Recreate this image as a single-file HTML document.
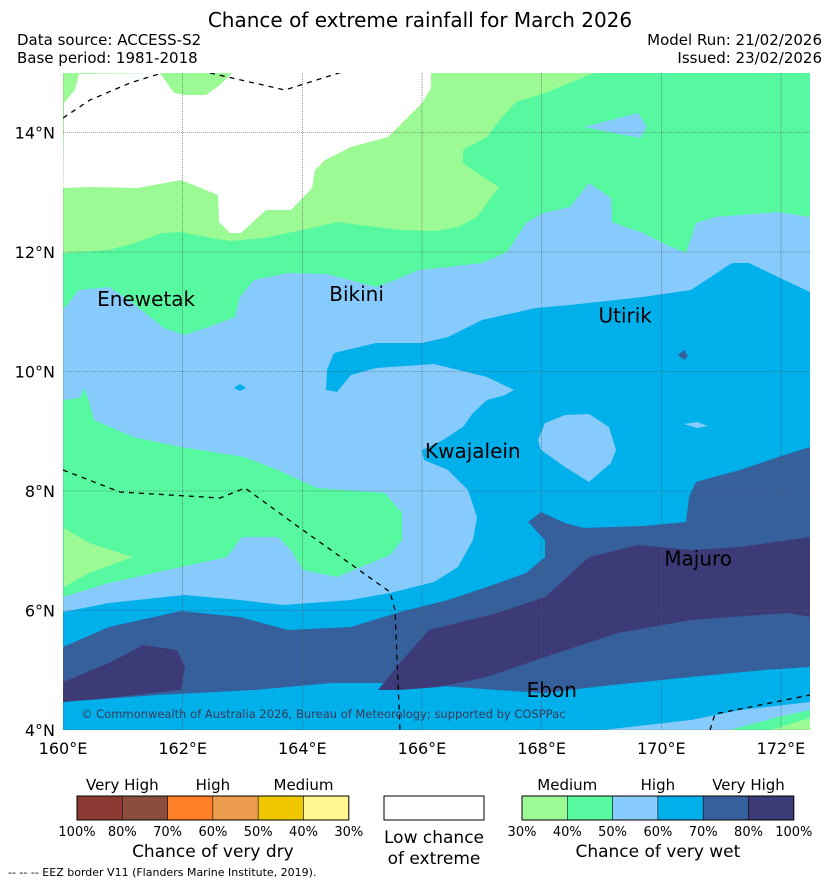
<!DOCTYPE html>
<html><head><meta charset="utf-8"><style>
body{margin:0;background:#fff;width:839px;height:885px;overflow:hidden;font-family:"Liberation Sans","DejaVu Sans",sans-serif}
</style></head><body>
<svg width="839" height="885" viewBox="0 0 839 885" style="font-family:'DejaVu Sans','Liberation Sans',sans-serif">
<defs><clipPath id="mc"><rect x="63" y="73" width="747" height="657"/></clipPath></defs>
<text x="420" y="27" font-size="20" text-anchor="middle">Chance of extreme rainfall for March 2026</text>
<text x="17" y="45" font-size="15">Data source: ACCESS-S2</text>
<text x="17" y="63" font-size="15">Base period: 1981-2018</text>
<text x="822" y="45" font-size="15" text-anchor="end">Model Run: 21/02/2026</text>
<text x="822" y="63" font-size="15" text-anchor="end">Issued: 23/02/2026</text>
<g id="map" clip-path="url(#mc)"></g>
<g id="axes"></g>
<g id="legend"></g>
<text x="8" y="876" font-size="11">-- -- -- EEZ border V11 (Flanders Marine Institute, 2019).</text>
</svg>
<script>
const lonTicks=[160,162,164,166,168,170,172];
const latTicks=[4,6,8,10,12,14];
const dryLabels=["100%","80%","70%","60%","50%","40%","30%"];
const wetLabels=["30%","40%","50%","60%","70%","80%","100%"];
const dryColors=["#8b3a33","#8b4d3d","#ff7f27","#eb9c4c","#f0c800","#fff68f"];
const wetColors=["#9cfa95","#56f9a0","#86cbfb","#00b0eb","#36609c","#3d3b77"];
const places=[["Enewetak",160.57,11.1],["Bikini",164.45,11.18],["Utirik",168.95,10.82],["Kwajalein",166.05,8.55],["Majuro",170.05,6.75],["Ebon",167.75,4.55]];
const X=lon=>63+(lon-160)*59.83, Y=lat=>730-(lat-4)*59.75;
const NS='http://www.w3.org/2000/svg';
function el(t,a,p){const e=document.createElementNS(NS,t);for(const k in a)e.setAttribute(k,a[k]);p.appendChild(e);return e;}
const map=document.getElementById('map');
function poly(pts,fill,name){const e=el('polygon',{points:pts,fill:fill},map);

}
el('rect',{x:63,y:73,width:747,height:657,fill:wetColors[0]},map);
poly("79,74 75,90 64,103 63,188 89,187 138,188 181,180 218,195 219,222 230,233 241,233 266,210 291,210 312,188 315,170 325,160 351,147 388,137 422,103 431,88 431,73 232,73 220,85 206,95 186,95 174,93 160,73","#ffffff","low-chance-region");
poly("63,253 109,250 138,242 162,233 181,232 206,237 230,241 264,238 303,230 337,222 376,227 400,230 436,231 458,227 477,217 499,187 477,173 463,163 463,150 487,137 502,117 516,102 545,93 594,73 810,73 810,730 63,730",wetColors[1],"wet-40-region");
poly("63,310 79,290 109,287 133,303 150,317 164,328 184,335 206,328 235,317 240,297 254,280 288,273 327,274 376,287 395,280 419,270 448,267 482,263 507,252 526,223 543,213 570,207 589,183 611,198 612,222 643,233 667,245 686,253 696,223 715,217 778,212 810,217 810,730 63,730",wetColors[2],"wet-50-region");
poly("63,400 80,398 84,388 88,398 94,420 133,437 181,447 244,457 278,470 317,488 385,493 402,513 402,540 390,555 361,567 337,577 303,570 291,550 278,537 242,537 227,557 181,567 109,583 63,597",wetColors[1],"wet-40-pocket");
poly("64,528 89,543 133,557 89,573 64,587",wetColors[0],"wet-30-pocket");
poly("584,127 638,113 647,127 640,138",wetColors[2],"wet-50-patch");
poly("334,353 376,343 422,343 448,337 482,320 536,308 570,305 643,297 691,290 732,263 749,263 778,277 810,292 810,730 63,730 63,612 109,603 184,595 240,600 283,605 351,600 390,593 434,582 458,567 473,540 477,517 468,490 448,470 424,460 422,450 443,440 463,427 473,413 487,400 505,395 514,390 487,377 434,364 376,368 351,375 337,392 326,390 327,370",wetColors[3],"wet-60-region");
poly("545,423 565,415 589,414 609,427 616,450 611,463 589,482 565,467 541,450 538,440",wetColors[2],"wet-50-blob");
poly("684,424 697,422 708,426 697,428",wetColors[2],"wet-50-speck");
poly("234,388 240,384 246,388 240,391",wetColors[3],"wet-60-speck");
poly("63,647 109,627 181,611 240,617 288,630 351,627 400,612 448,600 487,587 526,573 545,557 545,540 528,522 541,512 565,523 584,528 643,526 686,522 689,497 696,482 740,470 778,457 810,447 810,667 764,670 691,677 594,687 545,693 497,690 400,683 332,683 254,690 157,695 63,702",wetColors[4],"wet-70-region");
poly("678,355 684,350 688,356 684,360",wetColors[4],"wet-70-speck");
poly("63,682 109,663 143,645 177,650 185,667 181,690 109,698 63,702",wetColors[5],"wet-80-west");
poly("378,690 400,663 429,630 497,613 545,597 589,557 638,545 691,550 740,547 810,537 810,617 788,613 691,620 618,633 545,657 487,677 439,687 400,690",wetColors[5],"wet-80-east");
poly("594,731 691,720 740,710 810,702 810,730",wetColors[2],"wet-50-south");
poly("730,730 778,717 810,710 810,730",wetColors[1],"wet-40-south");
poly("770,730 810,718 810,730",wetColors[0],"wet-30-south");
lonTicks.forEach(l=>{const g=el('line',{x1:X(l),x2:X(l),y1:73,y2:730,stroke:'#555','stroke-width':0.6,'stroke-dasharray':'1,1'},map);

});
latTicks.forEach(l=>{const g=el('line',{x1:63,x2:810,y1:Y(l),y2:Y(l),stroke:'#555','stroke-width':0.6,'stroke-dasharray':'1,1'},map);

});
["63,118 90,100 130,83 162,73","210,73 285,90 345,71","63,470 120,492 220,498 245,488 300,528 390,592 395,610 400,730","710,730 715,714 810,695"].forEach(p=>{const e=el('polyline',{points:p,fill:'none',stroke:'#000','stroke-width':1.3,'stroke-dasharray':'5,5'},map);

});
places.forEach(p=>{const t=el('text',{x:X(p[1]),y:Y(p[2]),'font-size':20},map);t.textContent=p[0];

});
const cp=el('text',{x:81,y:718,'font-size':11.5,fill:'#3a3a5a'},map);cp.textContent='© Commonwealth of Australia 2026, Bureau of Meteorology; supported by COSPPac';


const ax=document.getElementById('axes');
lonTicks.forEach(l=>{const t=el('text',{x:X(l),y:754,'font-size':16,'text-anchor':'middle'},ax);t.textContent=l+'°E';

});
latTicks.forEach(l=>{const t=el('text',{x:55,y:Y(l)+6,'font-size':16,'text-anchor':'end'},ax);t.textContent=l+'°N';

});
const lg=document.getElementById('legend');
function bar(x0,colors,labels,tops,title,nm){const w=45.3;
colors.forEach((c,i)=>{const r=el('rect',{x:x0+i*w,y:796,width:w,height:24,fill:c,stroke:'#000','stroke-width':0.5},lg);

});
el('rect',{x:x0,y:796,width:w*6,height:24,fill:'none',stroke:'#000','stroke-width':1},lg);
labels.forEach((s,i)=>{const t=el('text',{x:x0+i*w,y:836,'font-size':13,'text-anchor':'middle'},lg);t.textContent=s;

});
tops.forEach((s,i)=>{const t=el('text',{x:x0+w*(2*i+1),y:790,'font-size':15,'text-anchor':'middle'},lg);t.textContent=s;

});
const t=el('text',{x:x0+w*3,y:857,'font-size':17,'text-anchor':'middle'},lg);t.textContent=title;

}
bar(77,dryColors,dryLabels,["Very High","High","Medium"],"Chance of very dry","dry-legend");
bar(522,wetColors,wetLabels,["Medium","High","Very High"],"Chance of very wet","wet-legend");
const wb=el('rect',{x:384,y:796,width:100,height:24,fill:'#fff',stroke:'#000','stroke-width':1},lg);


[["Low chance",843],["of extreme",864]].forEach(a=>{const t=el('text',{x:434,y:a[1],'font-size':17,'text-anchor':'middle'},lg);t.textContent=a[0];

});
</script>
</body></html>
